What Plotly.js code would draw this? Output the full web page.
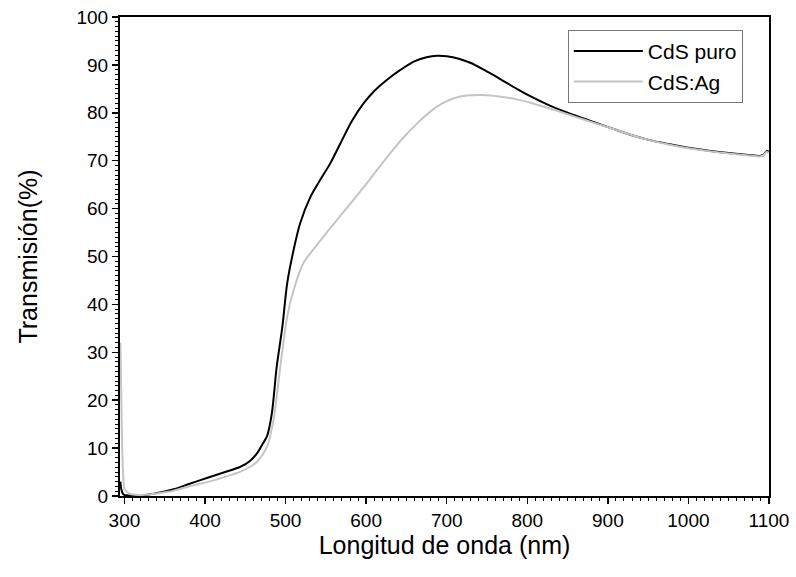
<!DOCTYPE html>
<html>
<head>
<meta charset="utf-8">
<script src="https://cdn.plot.ly/plotly-3.0.1.min.js"></script>
<style>html,body{margin:0;padding:0;background:#fff;}#chart{width:796px;height:577px;}</style>
</head>
<body>
<div id="chart"></div>
<script>
const seriesNames = ["CdS puro", "CdS:Ag"];
const xPuro = [295,296,298,300,310,320,330,340,361,380,405,425,444,455,465,472,477,483,489,496,502,510,518,531,543,556,568,582,597,611,626,642,659,675,688,700,715,730,746,766,787,808,828,850,870,890,911,930,952,975,1000,1025,1050,1075,1088,1093,1097,1100];
const yPuro = [3,1.5,0.5,0.2,0.1,0.1,0.3,0.6,1.4,2.5,3.9,5,6.1,7.2,9,11,12.5,17.3,27,35.3,44.4,51.4,56.9,62.5,66,69.6,73.6,78.2,82,84.7,86.9,88.9,90.7,91.6,91.9,91.8,91.3,90.4,89.0,87.1,85.0,83.1,81.5,80.0,78.8,77.6,76.4,75.3,74.3,73.5,72.7,72.1,71.6,71.2,71.0,71.2,72,71.9];
const xAg = [295,296,297,298,299,300,305,310,320,330,340,361,380,405,425,444,455,465,477,485,493.5,502,510,522,535,550,572,586,601,615,630,646,664,680,695,710,725,745,765,787,808,828,850,870,890,911,930,952,975,1000,1025,1050,1075,1088,1093,1097,1100];
const yAg = [32,22,12,6,3,1.5,0.6,0.3,0.2,0.3,0.5,1.1,2,3,4,5.1,6,7.2,10.3,15.9,27,37.4,43,48.6,51.6,54.8,59.3,62.2,65.3,68.4,71.6,74.8,77.9,80.3,82.0,83.1,83.6,83.7,83.4,82.8,81.9,80.9,79.7,78.6,77.5,76.4,75.3,74.3,73.4,72.6,72.0,71.5,71.1,70.9,71.1,71.8,71.7];
const xTickVals = [300,400,500,600,700,800,900,1000,1100];
const yTickVals = [0,10,20,30,40,50,60,70,80,90,100];

const traces = [
  {x: xPuro, y: yPuro, name: seriesNames[0], type: 'scatter', mode: 'lines',
   line: {color: '#000000', width: 2, shape: 'spline', smoothing: 0.8}},
  {x: xAg, y: yAg, name: seriesNames[1], type: 'scatter', mode: 'lines',
   line: {color: '#c4c4c4', width: 2, shape: 'spline', smoothing: 0.8}}
];

const FONT = 'Liberation Sans, Arial, sans-serif';
const axisFont = {family: FONT, size: 19, color: '#000'};
const layout = {
  width: 796, height: 577,
  margin: {l: 120, r: 27, t: 17, b: 81},
  paper_bgcolor: '#fff', plot_bgcolor: '#fff',
  showlegend: true,
  legend: {x: 0.69, y: 0.973, xanchor: 'left', yanchor: 'top',
    bordercolor: '#777', borderwidth: 1, bgcolor: '#fff',
    font: {family: FONT, size: 21, color: '#000'},
    tracegroupgap: 0, itemwidth: 69},
  xaxis: {
    range: [294.5, 1100], tickvals: xTickVals, ticktext: xTickVals.map(String),
    ticks: 'outside', ticklen: 6, tickwidth: 1.5, tickcolor: '#000',
    minor: {dtick: 10, tick0: 0, ticks: 'outside', ticklen: 3, tickwidth: 1, tickcolor: '#000'},
    showline: true, linecolor: '#000', linewidth: 2, mirror: true,
    showgrid: false, zeroline: false, tickfont: axisFont,
    title: {text: 'Longitud de onda (nm)', font: {family: FONT, size: 25, color: '#000'}, standoff: 0}
  },
  yaxis: {
    range: [0, 100], tickvals: yTickVals, ticktext: yTickVals.map(String),
    ticks: 'outside', ticklen: 6, tickwidth: 1.5, tickcolor: '#000',
    minor: {dtick: 1, tick0: 0, ticks: 'outside', ticklen: 3, tickwidth: 1, tickcolor: '#000'},
    showline: true, linecolor: '#000', linewidth: 2, mirror: true,
    showgrid: false, zeroline: false, tickfont: axisFont,
    title: {text: 'Transmisión(%)', font: {family: FONT, size: 25, color: '#000'}, standoff: 32}
  }
};
Plotly.newPlot('chart', traces, layout, {displayModeBar: false, staticPlot: true});
</script>
</body>
</html>
